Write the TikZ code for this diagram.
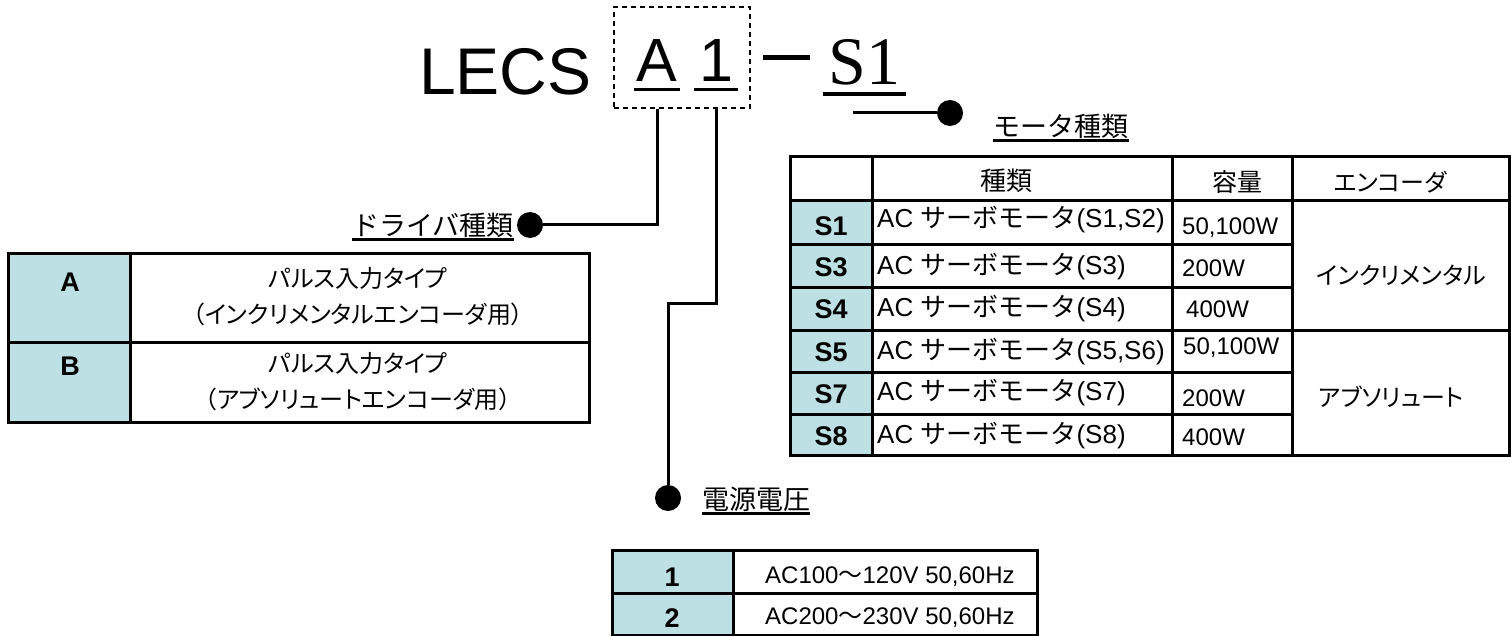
\documentclass[tikz,border=0pt]{standalone}
\usepackage{fontspec}
\setmainfont{Liberation Sans}
\newfontfamily\jpfont{Noto Sans CJK JP}
\newfontfamily\jpprop[RawFeature=+palt]{Noto Sans CJK JP}
\newfontfamily\minchofont{Liberation Serif}
\usepackage{xcolor}
\usetikzlibrary{positioning}
\definecolor{cell-blue}{HTML}{BCE0E3}
\newcommand{\pxsize}[1]{\fontsize{#1}{#1}\selectfont}

\begin{document}
\begin{tikzpicture}[x=1pt, y=-1pt,
        tabline/.style={line width=3pt},
        conn/.style={line width=3pt},
        uline/.style={line width=2.5pt},
        blob/.style={circle, fill=black, inner sep=0pt, minimum size=26pt},
        lbl/.style={font=\jpfont\pxsize{27}, inner sep=0pt},
        codechar/.style={font=\pxsize{61}, inner sep=0pt, anchor=base},
        tcell/.style={font=\pxsize{24}, inner sep=0pt},
        tkey/.style={font=\bfseries\pxsize{27}, inner sep=0pt}]
        \useasboundingbox (0,0) rectangle (1511,636);
        % model code
        \node[font=\pxsize{66}, anchor=base west, inner sep=0pt] (lecs) at (419,95) {LECS};
        \node[codechar, minimum width=46pt] (codeA) at (657,82) {A};
        \node[codechar, minimum width=44pt] (code1) at (716,82) {1};
        \draw[uline, line width=3pt] ([yshift=-8pt]codeA.base west) -- ([yshift=-8pt]codeA.base east);
        \draw[uline, line width=3pt] ([yshift=-8pt]code1.base west) -- ([yshift=-8pt]code1.base east);
        \node[draw, dashed, line width=1.5pt, dash pattern=on 5pt off 4pt,
              minimum width=136pt, minimum height=101pt] (boxcode) at (682,57.5) {};
        \node[fill=black, inner sep=0pt, minimum width=47pt, minimum height=5pt] (dash) at (786.5,58) {};
        \node[font=\minchofont\pxsize{68}, anchor=base, inner sep=0pt, minimum width=83pt] (codeS) at (864.5,85) {S1};
        \draw[uline, line width=4pt] ([yshift=-9pt]codeS.base west) -- ([yshift=-9pt]codeS.base east);

        % labels and leaders
        \node[blob] (blobmot) at (950,113) {};
        \node[blob] (blobdrv) at (530,225) {};
        \node[blob] (blobvolt) at (668,498) {};
        \node[lbl] (lblmot) at (1061,126) {モータ種類};
        \node[lbl] (lbldrv) at (433,225) {ドライバ種類};
        \node[lbl] (lblvolt) at (756,499) {電源電圧};
        \foreach \l in {lblmot, lbldrv, lblvolt}
            \draw[uline] ([yshift=-2pt]\l.south west) -- ([yshift=-2pt]\l.south east);
        \coordinate (motstart) at (853,113);
        \coordinate (voltbend) at (716,303);
        \draw[conn] (motstart) -- (blobmot);
        \draw[conn] (codeA |- boxcode.south) |- (blobdrv);
        \draw[conn] (code1 |- boxcode.south) -- (voltbend) -| (blobvolt);

        % driver table
        \fill[cell-blue] (8,253) rectangle (130,422);
        \draw[tabline] (8,253) rectangle (589,422);
        \draw[tabline] (8,342) -- (589,342) (130,253) -- (130,422);
        \node[tkey] (keyA) at (70,282) {A};
        \node[tkey] (keyB) at (70,366) {B};
        \node[tcell, font=\jpprop\fontsize{24}{36}\selectfont, align=center] (drvA) at (358,297)
              {パルス入力タイプ\\（インクリメンタルエンコーダ用）};
        \node[tcell, font=\jpprop\fontsize{24}{36}\selectfont, align=center] (drvB) at (358,382)
              {パルス入力タイプ\\（アブソリュートエンコーダ用）};

        % motor table
        \fill[cell-blue] (790,201) rectangle (872,455);
        \draw[tabline] (790,157) rectangle (1509,455);
        \draw[tabline] (790,201) -- (1509,201) (790,330) -- (1509,330);
        \foreach \y in {245,287,372,414}
            \draw[tabline] (790,\y) -- (1292,\y);
        \foreach \x in {872,1172,1292}
            \draw[tabline] (\x,157) -- (\x,455);
        \node[tcell, font=\jpprop\pxsize{26}] (hdkind) at (1006,181) {種類};
        \node[tcell, font=\jpprop\pxsize{25}] (hdcap) at (1237,182) {容量};
        \node[tcell, font=\jpprop\pxsize{24}] (hdenc) at (1390,182) {エンコーダ};
        \foreach \key/\kind/\cap/\yk/\yt/\yc/\xc in {S1/{S1,S2}/{50,100W}/226/220/228/1182,
                S3/S3/200W/267/267/268/1182, S4/S4/400W/309/309/309/1186,
                S5/{S5,S6}/{50,100W}/352/352/348/1183, S7/S7/200W/394/393/398/1182,
                S8/S8/400W/436/436/437/1182}
        {
            \node[tkey] (key\key) at (831,\yk) {\key};
            \node[tcell, anchor=west, font=\pxsize{26}] (kind\key) at (877,\yt) {AC {\jpfont サーボモータ}(\kind)};
            \node[tcell, anchor=west] (cap\key) at (\xc,\yc) {\cap};
        }
        \node[tcell, font=\jpprop\pxsize{24}] (encinc) at (1401,275) {インクリメンタル};
        \node[tcell, font=\jpprop\pxsize{24}] (encabs) at (1391,397) {アブソリュート};

        % voltage table
        \fill[cell-blue] (612,550) rectangle (733,635);
        \draw[tabline] (612,550) rectangle (1037,635);
        \draw[tabline] (612,593) -- (1037,593) (733,550) -- (733,635);
        \node[tkey] (volt1) at (672,577) {1};
        \node[tkey] (volt2) at (672,618) {2};
        \node[tcell, anchor=west] (volttxt1) at (765,577) {AC100{\jpfont 〜}120V 50,60Hz};
        \node[tcell, anchor=west] (volttxt2) at (765,618) {AC200{\jpfont 〜}230V 50,60Hz};
\end{tikzpicture}
\end{document}
